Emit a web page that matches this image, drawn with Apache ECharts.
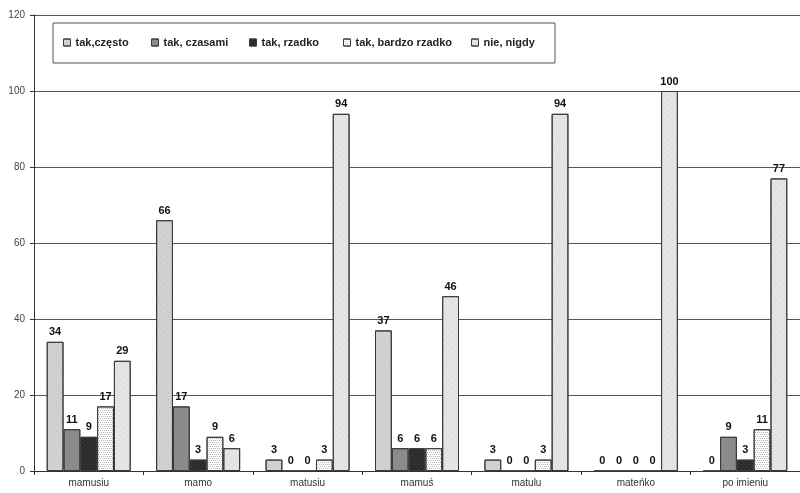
<!DOCTYPE html>
<html>
<head>
<meta charset="utf-8">
<script src="https://cdn.jsdelivr.net/npm/echarts@6/dist/echarts.min.js"></script>
<style>
  html, body { margin: 0; padding: 0; background: #fff; }
  #chart { width: 800px; height: 493px; }
</style>
</head>
<body>
<div id="chart"></div>
<script>
// Forms of address and how often each is used (percent)
const categories = ['mamusiu', 'mamo', 'matusiu', 'mamuś', 'matulu', 'mateńko', 'po imieniu'];
const seriesNames = ['tak,często', 'tak, czasami', 'tak, rzadko', 'tak, bardzo rzadko', 'nie, nigdy'];
const takCzesto = [34, 66, 3, 37, 3, 0, 0];
const takCzasami = [11, 17, 0, 6, 0, 0, 9];
const takRzadko = [9, 3, 0, 6, 0, 0, 3];
const takBardzoRzadko = [17, 9, 3, 6, 3, 0, 11];
const nieNigdy = [29, 6, 94, 46, 94, 100, 77];
const yTicks = [0, 20, 40, 60, 80, 100, 120];

const values = [takCzesto, takCzasami, takRzadko, takBardzoRzadko, nieNigdy];

const fills = ['#d3d3d3', '#8b8b8b', '#2a2a2a', '#ffffff', '#e2e2e2'];
const decals = [
  { symbol: 'rect', symbolSize: 1, dashArrayX: [1, 2], dashArrayY: [1, 2], color: 'rgba(150,150,150,0.45)' },
  { symbol: 'none' },
  { symbol: 'rect', symbolSize: 1, dashArrayX: [1, 2], dashArrayY: [1, 2], color: 'rgba(90,90,90,0.6)' },
  { symbol: 'rect', symbolSize: 1, dashArrayX: [[1, 1], [0, 1, 1, 0]], dashArrayY: [1, 1], color: 'rgba(120,120,120,0.55)' },
  { symbol: 'rect', symbolSize: 1, dashArrayX: [1, 3], dashArrayY: [1, 3], color: 'rgba(255,255,255,0.7)' }
];
const legendX = [63, 151, 249, 343, 471];

const FONT = '"Liberation Sans", Arial, sans-serif';

const chart = echarts.init(document.getElementById('chart'), null, { renderer: 'canvas' });

const series = seriesNames.map((name, i) => ({
  name: name,
  type: 'bar',
  data: values[i],
  barGap: '0%',
  barWidth: 16.8,
  itemStyle: {
    color: fills[i],
    borderColor: '#3a3a3a',
    borderWidth: 1,
    decal: decals[i]
  },
  label: {
    show: true,
    position: 'top',
    distance: 4,
    color: '#111',
    fontFamily: FONT,
    fontWeight: 'bold',
    fontSize: 11
  },
  emphasis: { disabled: true }
}));

const legends = seriesNames.map((name, i) => ({
  data: [name],
  left: legendX[i],
  top: 37,
  padding: 0,
  itemWidth: 7,
  itemHeight: 7,
  itemGap: 3,
  icon: 'rect',
  selectedMode: false,
  itemStyle: { borderColor: '#3a3a3a', borderWidth: 1 },
  textStyle: { fontFamily: FONT, fontWeight: 'bold', fontSize: 11, color: '#222', padding: [0, 0, 0, 0] }
}));

chart.setOption({
  animation: false,
  aria: { enabled: true, decal: { show: true } },
  grid: { left: 34, right: -4, top: 15, bottom: 22, containLabel: false },
  graphic: [{
    type: 'rect',
    shape: { x: 53, y: 23, width: 502, height: 40 },
    style: { fill: '#fff', stroke: '#555', lineWidth: 1 },
    z: 10
  }],
  legend: legends.map(l => Object.assign(l, { z: 20 })),
  xAxis: {
    type: 'category',
    data: categories,
    axisLine: { lineStyle: { color: '#333', width: 1 } },
    axisTick: { show: true, length: 4, lineStyle: { color: '#333' } },
    axisLabel: { fontFamily: FONT, fontSize: 10, color: '#333', margin: 7 }
  },
  yAxis: {
    type: 'value',
    min: yTicks[0],
    max: yTicks[yTicks.length - 1],
    interval: yTicks[1] - yTicks[0],
    axisLine: { show: true, lineStyle: { color: '#333', width: 1 } },
    axisTick: { show: true, length: 4, lineStyle: { color: '#333' } },
    axisLabel: { fontFamily: FONT, fontSize: 10, color: '#444', margin: 9 },
    splitLine: { lineStyle: { color: '#555', width: 1 } }
  },
  series: series
});
</script>
</body>
</html>
